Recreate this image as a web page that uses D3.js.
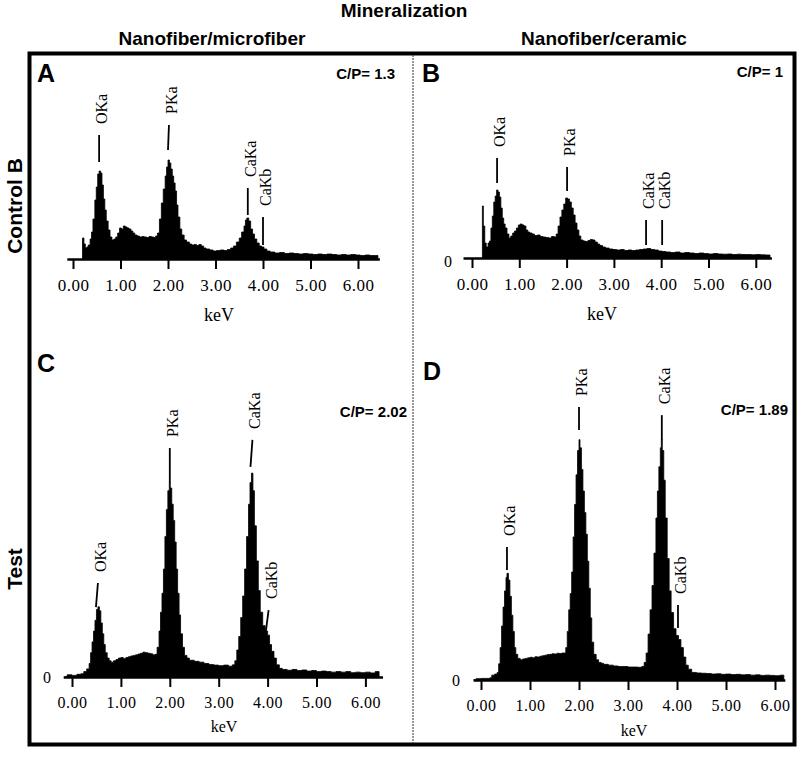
<!DOCTYPE html>
<html>
<head>
<meta charset="utf-8">
<script src="https://cdn.jsdelivr.net/npm/d3@7"></script>
<style>
  body { margin: 0; background: #fff; }
  .hdr { font-family: "Liberation Sans", Arial, sans-serif; font-weight: bold; }
  .tick text { font-family: "Liberation Serif", "Times New Roman", serif; }
  .serif { font-family: "Liberation Serif", "Times New Roman", serif; }
</style>
</head>
<body>
<script>
// ---- data (keV, counts) ----
var kevTicks = [0, 1, 2, 3, 4, 5, 6];
var panelIds = ["A", "B", "C", "D"];
var colTitles = ["Nanofiber/microfiber", "Nanofiber/ceramic"];
var rowTitles = ["Control B", "Test"];
var cpRatios = ["1.3", "1", "2.02", "1.89"];

var specA = [[0.20,210],[0.23,150],[0.26,110],[0.29,120],[0.32,140],[0.36,200],
  [0.39,270],[0.42,400],[0.46,590],[0.49,720],[0.52,850],[0.55,880],[0.58,860],
  [0.61,740],[0.64,600],[0.67,490],[0.70,380],[0.74,290],[0.78,220],[0.82,190],
  [0.86,200],[0.90,220],[0.94,260],[0.98,310],[1.02,300],[1.06,330],[1.10,320],
  [1.14,310],[1.18,300],[1.22,280],[1.26,260],[1.30,240],[1.35,230],[1.40,220],
  [1.45,225],[1.50,220],[1.55,215],[1.60,225],[1.65,220],[1.70,215],[1.74,230],
  [1.78,260],[1.82,400],[1.86,560],[1.90,700],[1.94,830],[1.97,920],[2.00,990],
  [2.03,960],[2.06,900],[2.09,830],[2.12,760],[2.15,680],[2.18,540],[2.21,420],
  [2.25,300],[2.29,240],[2.34,190],[2.39,170],[2.45,150],[2.50,140],[2.55,145],
  [2.60,135],[2.65,145],[2.70,130],[2.75,110],[2.80,100],[2.88,90],[2.95,80],
  [3.02,85],[3.10,90],[3.18,85],[3.25,95],[3.32,110],[3.38,130],[3.44,170],
  [3.50,210],[3.55,270],[3.60,330],[3.63,390],[3.66,410],[3.70,380],[3.74,300],
  [3.78,250],[3.82,200],[3.87,160],[3.92,130],[3.97,120],[4.02,100],[4.08,80],
  [4.15,70],[4.25,60],[4.35,65],[4.45,55],[4.55,60],[4.65,55],[4.75,50],
  [4.85,55],[4.95,50],[5.05,45],[5.15,50],[5.25,45],[5.35,50],[5.45,45],
  [5.55,40],[5.65,45],[5.75,40],[5.85,45],[5.95,40],[6.05,35],[6.15,40],
  [6.25,35],[6.35,35],[6.42,0]];

var specB = [[0.22,520],[0.24,320],[0.27,150],[0.30,110],[0.34,150],[0.37,170],
  [0.40,300],[0.43,420],[0.46,560],[0.49,620],[0.52,680],[0.55,660],[0.58,610],
  [0.61,500],[0.64,400],[0.67,340],[0.70,300],[0.74,240],[0.78,200],[0.82,220],
  [0.86,250],[0.90,270],[0.94,300],[0.98,330],[1.02,340],[1.06,330],[1.10,320],
  [1.14,280],[1.18,260],[1.22,250],[1.27,240],[1.32,225],[1.38,230],[1.44,215],
  [1.50,210],[1.56,205],[1.62,200],[1.68,215],[1.74,210],[1.78,240],[1.82,320],
  [1.86,410],[1.90,480],[1.94,540],[1.98,600],[2.02,590],[2.06,560],[2.10,500],
  [2.14,430],[2.18,350],[2.22,280],[2.26,220],[2.30,180],[2.35,170],[2.40,165],
  [2.45,175],[2.50,185],[2.55,180],[2.60,160],[2.65,140],[2.70,125],[2.76,110],
  [2.82,100],[2.90,90],[2.98,85],[3.06,80],[3.14,85],[3.22,75],[3.30,80],
  [3.38,75],[3.46,80],[3.54,85],[3.62,90],[3.70,95],[3.78,85],[3.86,80],
  [3.94,70],[4.02,65],[4.10,60],[4.20,55],[4.30,60],[4.40,50],[4.50,55],
  [4.60,50],[4.70,45],[4.80,50],[4.90,45],[5.00,40],[5.10,45],[5.20,40],
  [5.30,38],[5.40,40],[5.50,35],[5.60,38],[5.70,35],[5.80,35],[5.90,32],
  [6.00,35],[6.10,32],[6.20,30],[6.30,0]];

var specC = [[-0.15,0],[-0.10,8],[0.00,6],[0.10,10],[0.18,12],[0.24,20],[0.30,30],
  [0.35,50],[0.38,90],[0.41,130],[0.44,170],[0.47,210],[0.50,250],[0.53,260],
  [0.56,245],[0.59,200],[0.62,160],[0.65,120],[0.68,90],[0.72,70],[0.76,60],
  [0.80,55],[0.85,60],[0.90,65],[0.95,70],[1.00,72],[1.05,68],[1.10,72],
  [1.15,75],[1.20,78],[1.25,80],[1.30,82],[1.35,85],[1.40,88],[1.45,92],
  [1.50,90],[1.55,88],[1.60,86],[1.65,82],[1.70,84],[1.74,110],[1.78,170],
  [1.81,240],[1.84,310],[1.87,400],[1.90,520],[1.93,620],[1.96,690],[1.99,720],
  [2.01,700],[2.04,640],[2.07,580],[2.10,500],[2.13,400],[2.16,310],[2.19,230],
  [2.22,160],[2.26,110],[2.30,80],[2.35,70],[2.40,62],[2.50,58],[2.60,55],
  [2.70,50],[2.80,46],[2.90,44],[3.00,42],[3.10,44],[3.20,40],[3.28,45],
  [3.33,60],[3.37,100],[3.41,150],[3.45,220],[3.49,300],[3.53,400],[3.57,520],
  [3.61,640],[3.64,720],[3.67,755],[3.70,690],[3.73,560],[3.77,430],[3.81,320],
  [3.85,240],[3.90,190],[3.95,170],[4.00,155],[4.04,120],[4.08,95],[4.13,70],
  [4.18,45],[4.24,32],[4.30,28],[4.40,25],[4.50,28],[4.60,24],[4.70,26],
  [4.80,22],[4.90,24],[5.00,20],[5.10,22],[5.20,20],[5.30,18],[5.40,20],
  [5.50,18],[5.60,20],[5.70,16],[5.80,18],[5.90,16],[6.00,18],[6.10,15],
  [6.20,20],[6.28,0]];

var specD = [[-0.15,0],[-0.10,5],[0.00,6],[0.10,6],[0.18,8],[0.22,18],[0.28,22],
  [0.33,28],[0.36,60],[0.39,120],[0.42,200],[0.45,270],[0.48,330],[0.51,380],
  [0.53,395],[0.56,370],[0.59,310],[0.62,240],[0.65,180],[0.68,120],[0.71,95],
  [0.75,80],[0.80,75],[0.85,78],[0.90,80],[0.95,82],[1.00,84],[1.05,82],
  [1.10,86],[1.15,85],[1.20,88],[1.25,90],[1.30,92],[1.35,94],[1.40,95],
  [1.45,97],[1.50,96],[1.55,99],[1.60,98],[1.65,100],[1.70,100],[1.73,120],
  [1.76,180],[1.79,260],[1.82,320],[1.85,400],[1.88,530],[1.91,650],[1.94,760],
  [1.97,850],[2.00,890],[2.02,860],[2.05,780],[2.08,700],[2.11,620],[2.14,540],
  [2.17,440],[2.20,340],[2.23,230],[2.26,140],[2.30,95],[2.35,75],[2.40,65],
  [2.45,62],[2.50,58],[2.60,55],[2.70,52],[2.80,50],[2.90,50],[3.00,48],
  [3.10,48],[3.20,47],[3.28,50],[3.33,65],[3.37,100],[3.41,170],[3.45,260],
  [3.49,350],[3.53,470],[3.57,600],[3.60,700],[3.63,790],[3.66,860],[3.68,890],
  [3.70,850],[3.73,740],[3.76,600],[3.80,450],[3.84,330],[3.88,250],[3.93,190],
  [3.98,165],[4.03,150],[4.08,120],[4.13,85],[4.18,55],[4.23,40],[4.30,28],
  [4.40,26],[4.50,25],[4.60,24],[4.70,22],[4.80,23],[4.90,21],[5.00,22],
  [5.10,20],[5.20,21],[5.30,19],[5.40,20],[5.50,18],[5.60,19],[5.70,17],
  [5.80,18],[5.90,17],[6.00,16],[6.10,18],[6.18,0]];

// peak tags: name, keV at top, counts at top, keV at bottom, counts at bottom
var tagsA = [["OKa",0.55,1240,0.55,970],["PKa",2.02,1340,2.00,1090],
  ["CaKa",3.68,710,3.68,440],["CaKb",4.00,420,4.00,140]];
var tagsB = [["OKa",0.53,1000,0.53,750],["PKa",2.01,910,2.01,670],
  ["CaKa",3.68,380,3.68,130],["CaKb",4.02,380,4.02,130]];
var tagsC = [["OKa",0.53,348,0.49,259],["PKa",2.00,848,2.00,719],
  ["CaKa",3.69,878,3.65,778],["CaKb",4.02,248,3.96,163]];
var tagsD = [["OKa",0.53,493,0.53,407],["PKa",2.00,1011,2.00,926],
  ["CaKa",3.69,981,3.69,889],["CaKb",4.02,278,4.02,193]];

// ---- layout ----
var W = 800, H = 759;
var panels = [
  {spec: specA, tags: tagsA, org: 73, ppk: 47.5, lo: -0.13, hi: 6.45, base: 259,
   yh: 100, zero: false, lx: 37, ly: 82, cpx: 395, cpy: 79, kx: 219, ky: 321,
   fs: 17, kfs: 18},
  {spec: specB, tags: tagsB, org: 472, ppk: 47.3, lo: -0.19, hi: 6.33, base: 258,
   yh: 100, zero: true, lx: 422, ly: 82, cpx: 783, cpy: 77, kx: 602, ky: 320,
   fs: 17, kfs: 18},
  {spec: specC, tags: tagsC, org: 72, ppk: 48.9, lo: -0.18, hi: 6.35, base: 677,
   yh: 270, zero: true, lx: 37, ly: 372, cpx: 407, cpy: 417, kx: 224, ky: 732,
   fs: 16, kfs: 16},
  {spec: specD, tags: tagsD, org: 481, ppk: 49, lo: -0.16, hi: 6.2, base: 680,
   yh: 270, zero: true, lx: 423, ly: 380, cpx: 788, cpy: 415, kx: 634, ky: 736,
   fs: 16, kfs: 16}
];

var svg = d3.select("body").append("svg")
    .attr("width", W)
    .attr("height", H);

svg.append("rect").attr("width", W).attr("height", H).attr("fill", "#fff");

// headers
svg.append("text").attr("class", "hdr")
    .attr("x", 404).attr("y", 17)
    .attr("text-anchor", "middle").style("font-size", "19px")
    .text("Mineralization");

svg.selectAll(".coltitle")
    .data(colTitles)
    .enter().append("text")
    .attr("class", "hdr coltitle")
    .attr("x", function(d, i) { return i == 0 ? 212 : 604; })
    .attr("y", 45)
    .attr("text-anchor", "middle")
    .style("font-size", "19px")
    .text(function(d) { return d; });

svg.selectAll(".rowtitle")
    .data(rowTitles)
    .enter().append("text")
    .attr("class", "hdr rowtitle")
    .attr("text-anchor", "middle")
    .attr("transform", function(d, i) {
        return "translate(22," + (i == 0 ? 206 : 569) + ") rotate(-90)";
    })
    .style("font-size", "21px")
    .text(function(d) { return d; });

// frame and divider
svg.append("rect")
    .attr("x", 29.5).attr("y", 53.5)
    .attr("width", 765).attr("height", 691)
    .attr("fill", "none").attr("stroke", "#000").attr("stroke-width", 4);

svg.append("line")
    .attr("x1", 413).attr("x2", 413).attr("y1", 55).attr("y2", 743)
    .attr("stroke", "#333").attr("stroke-width", 1)
    .attr("stroke-dasharray", "2,1");

panels.forEach(function(p, i) {
    var x = d3.scaleLinear()
        .domain([p.lo, p.hi])
        .range([p.org + p.lo * p.ppk, p.org + p.hi * p.ppk]);
    var y = d3.scaleLinear().domain([0, 1000]).range([p.base, p.base - p.yh]);
    var g = svg.append("g");

    // spectrum
    var area = d3.area()
        .x(function(d) { return x(d[0]); })
        .y0(y(0))
        .y1(function(d) { return y(d[1]); })
        .curve(d3.curveStepAfter);
    g.append("path").datum(p.spec)
        .attr("d", area)
        .attr("fill", "#000")
        .attr("stroke", "#000")
        .attr("stroke-width", 0.8);

    // axis
    var axis = d3.axisBottom(x)
        .tickValues(kevTicks)
        .tickFormat(d3.format(".2f"))
        .tickSize(10)
        .tickSizeOuter(0)
        .tickPadding(10);
    var ax = g.append("g")
        .attr("transform", "translate(0," + p.base + ")")
        .call(axis);
    ax.select(".domain").attr("stroke-width", 2.5);
    ax.selectAll(".tick line").attr("stroke-width", 2);
    ax.selectAll(".tick text")
        .style("font-size", p.fs + "px")
        .style("letter-spacing", "0.5px")
        .attr("fill", "#000");

    if (p.zero) {
        g.append("text").attr("class", "serif")
            .attr("x", x(0) - (i == 1 ? 24 : 25))
            .attr("y", y(0) + (i == 1 ? 9 : 6))
            .attr("text-anchor", "middle")
            .style("font-size", "16px")
            .text("0");
    }

    g.append("text").attr("class", "serif")
        .attr("x", p.kx).attr("y", p.ky)
        .attr("text-anchor", "middle")
        .style("font-size", p.kfs + "px")
        .text("keV");

    // peak tags
    p.tags.forEach(function(t) {
        g.append("line")
            .attr("x1", x(t[1])).attr("y1", y(t[2]))
            .attr("x2", x(t[3])).attr("y2", y(t[4]))
            .attr("stroke", "#000").attr("stroke-width", 1.8);
        g.append("text").attr("class", "serif")
            .attr("transform", "translate(" + (x(t[1]) + 8) + "," +
                (y(t[2]) - 11) + ") rotate(-90)")
            .style("font-size", "16px")
            .text(t[0]);
    });

    // panel letter and C/P ratio
    g.append("text").attr("class", "hdr")
        .attr("x", p.lx).attr("y", p.ly)
        .style("font-size", "25px")
        .text(panelIds[i]);
    g.append("text").attr("class", "hdr")
        .attr("x", p.cpx).attr("y", p.cpy)
        .attr("text-anchor", "end")
        .style("font-size", "15px")
        .text("C/P= " + cpRatios[i]);
});
</script>
</body>
</html>
